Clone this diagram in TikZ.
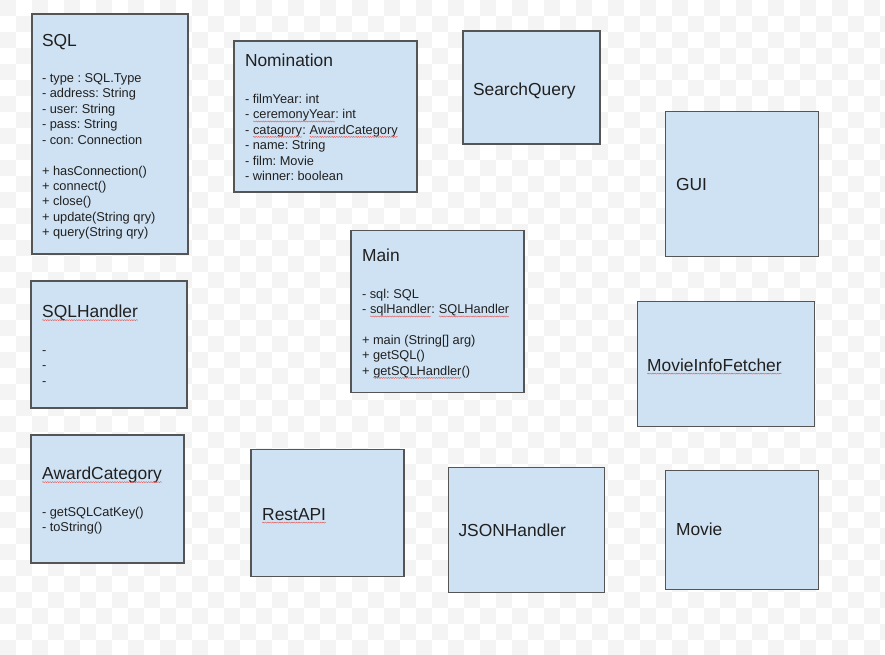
\documentclass[tikz,border=0pt]{standalone}
\usepackage{fontspec}
\setmainfont{Liberation Sans}
\frenchspacing
\usetikzlibrary{decorations.pathmorphing}
\definecolor{boxblue}{HTML}{CFE2F3}
\definecolor{edgegray}{HTML}{555555}
\definecolor{txtcol}{HTML}{202020}
\definecolor{checkgray}{HTML}{F4F4F4}
\definecolor{spellred}{HTML}{E06060}
\newcommand\spellmark[1]{\tikz[baseline=(sw.base)]{\node[inner sep=0pt,outer sep=0pt,anchor=base west](sw) at (0,0){#1};\draw[spellred,line width=0.45pt,decorate,decoration={snake,amplitude=0.55pt,segment length=2.4pt}]([yshift=-2.6pt]sw.base west)--([yshift=-2.6pt]sw.base east);}}
\newcommand\linesblock[1]{\begin{tabular}[t]{@{}l@{}}#1\end{tabular}}
\tikzset{
  clsbox/.style={draw=edgegray, fill=boxblue, line width=1.1pt, inner sep=0pt, outer sep=0pt, anchor=north west},
  clstitle/.style={anchor=base west, inner sep=0pt, outer sep=0pt, text=txtcol, font=\fontsize{17.4}{20}\selectfont},
  clsbody/.style={anchor=base west, inner sep=0pt, outer sep=0pt, text=txtcol, font=\fontsize{12.8}{15.4}\selectfont},
}
\begin{document}
\begin{tikzpicture}[x=1pt,y=-1pt]
\useasboundingbox (0,0) rectangle (885,654);
\begin{scope}
\clip (0,0) rectangle (885,654);
\fill[white] (0,0) rectangle (885,654);
\foreach \j in {0,...,40}{
  \pgfmathtruncatemacro\st{mod(\j,2)}
  \pgfmathtruncatemacro\nx{\st+2}
  \foreach \i in {\st,\nx,...,55}{\fill[checkgray] (16*\i,16*\j) rectangle ++(16,16);}
}
\end{scope}

% SQL
\node[clsbox, minimum width=156, minimum height=240] (sql) at (32,14) {};
\node[clstitle] (sqlt) at (42,46) {SQL};
\node[clsbody] (sqla) at (42,82.5) {\linesblock{- type : SQL.Type\\- address: String\\- user: String\\- pass: String\\- con: Connection}};
\node[clsbody] (sqlm) at (42,175) {\linesblock{+ hasConnection()\\+ connect()\\+ close()\\+ update(String qry)\\+ query(String qry)}};

% Nomination
\node[clsbox, minimum width=183, minimum height=151] (nom) at (234,41) {};
\node[clstitle] (nomt) at (245,66) {Nomination};
\node[clsbody] (noma) at (245,103.5) {\linesblock{- filmYear: int\\- \spellmark{ceremonyYear}: int\\- \spellmark{catagory}: \spellmark{AwardCategory}\\- name: String\\- film: Movie\\- winner: boolean}};

% SearchQuery
\node[clsbox, minimum width=137, minimum height=113] (sq) at (463,31) {};
\node[clstitle] (sqt) at (473,95) {SearchQuery};

% GUI
\node[clsbox, minimum width=152.5, minimum height=145] (gui) at (665.7,111.7) {};
\node[clstitle] (guit) at (676,190.5) {GUI};

% Main
\node[clsbox, minimum width=173, minimum height=162] (main) at (351,230.5) {};
\node[clstitle] (maint) at (362,261) {Main};
\node[clsbody] (maina) at (362,298.5) {\linesblock{- sql: SQL\\- \spellmark{sqlHandler}: \spellmark{SQLHandler}}};
\node[clsbody] (mainm) at (362,344.5) {\linesblock{+ main (String[] arg)\\+ getSQL()\\+ \spellmark{getSQLHandler}()}};

% SQLHandler
\node[clsbox, minimum width=156, minimum height=127] (sqlh) at (31,281) {};
\node[clstitle] (sqlht) at (42,317.5) {\spellmark{SQLHandler}};
\node[clsbody] (sqlha) at (42,354.5) {\linesblock{-\\-\\-}};

% MovieInfoFetcher
\node[clsbox, minimum width=177, minimum height=125] (mif) at (637.3,301.7) {};
\node[clstitle] (mift) at (647,371) {\spellmark{MovieInfoFetcher}};

% AwardCategory
\node[clsbox, minimum width=153, minimum height=128] (awc) at (31,435) {};
\node[clstitle] (awct) at (42,479.5) {\spellmark{AwardCategory}};
\node[clsbody] (awcm) at (42,516.5) {\linesblock{- getSQLCatKey()\\- toString()}};

% RestAPI
\node[clsbox, minimum width=153, minimum height=127] (rest) at (251,449.5) {};
\node[clstitle] (restt) at (262,520) {\spellmark{RestAPI}};

% JSONHandler
\node[clsbox, minimum width=156, minimum height=125] (json) at (448.3,467.5) {};
\node[clstitle] (jsont) at (458.5,536.5) {JSONHandler};

% Movie
\node[clsbox, minimum width=152.5, minimum height=118.5] (movie) at (665.7,470.7) {};
\node[clstitle] (moviet) at (676,535) {Movie};
\end{tikzpicture}
\end{document}
